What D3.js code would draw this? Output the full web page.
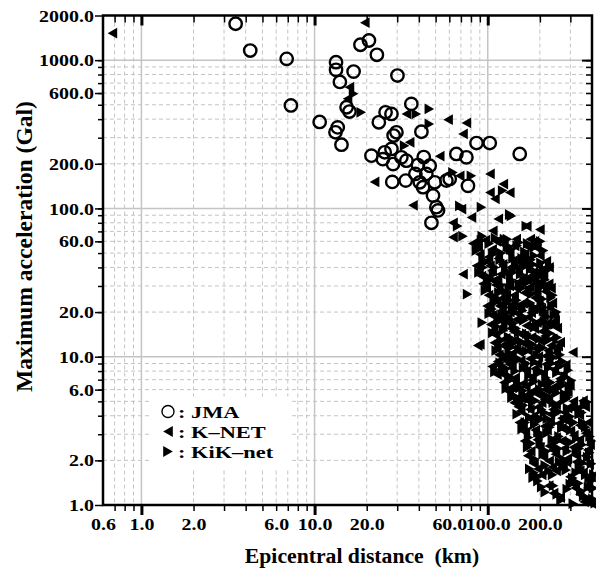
<!DOCTYPE html>
<html>
<head>
<meta charset="utf-8">
<script src="https://cdn.jsdelivr.net/npm/d3@7"></script>
<style>
body { margin: 0; background: #fff; }
text { font-family: "Liberation Serif", "Times New Roman", serif; font-weight: bold; }
</style>
</head>
<body>
<div id="chart"></div>
<script>
// ---- data: [epicentral distance (km), max acceleration (Gal)] ----
var jma = [[3.5,1760],[4.25,1160],[6.9,1020],[7.3,495],[10.7,383],[13.3,969],[13.3,860],[16.8,837],[14.0,713],
  [18.4,1270],[20.6,1357],[22.9,1086],[30.1,787],[15.3,481],[15.9,450],[13.6,352],[13.2,326],[14.3,269],
  [23.5,381],[25.7,445],[27.8,434],[36.2,507],[28.6,310],[29.7,326],[41.4,329],[21.3,227],[24.8,215],
  [25.4,239],[27.8,252],[28.4,199],[31.7,221],[28.1,151],[33.6,154],[39.5,196],[42.7,222],[33.9,210],
  [46.2,194],[44.2,171],[40.5,150],[49.4,150],[57.7,154],[42.3,139],[48.3,122],[50.5,102],[51.6,97],
  [47.3,80],[65.9,233],[75.3,221],[86.1,276],[102.7,276],[153,233],[76.9,142],[60.3,158],[38.2,171]];

var knet = [[0.68,1520],[19.5,1790],[15.9,657],[15.5,548],[33.9,434],[59,397],[75.3,377],[72,318],[35.4,279],
  [52.8,225],[22.2,151],[37,105],[68.9,166],[103,171],[123,146],[134,128],[103,128],[110,116],[70.5,99],
  [63,80],[115,85],[80.5,87],[63,64],[200,72],[168,76],[107,70.6],[72,36],[90,12.1],[310,10.7],[113,7.6],[87.5,11.9],
  [82,58],[90,49],[97,61],[106,53],[115,46],[124,57],[134,50],[146,62],[158,47],[170,55],[186,60],[200,48],
  [88,55],[101,47],[112,60],[129,52],[143,56],[163,49],[192,54],[176,62],
  [86,41],[92,35],[99,44],[106,38],[114,33.5],[122,42],[131,36],[140,44.5],[150,39],[160,34],[171,43],[183,37],[196,41],[210,35],[226,40],
  [89,38],[103,41],[119,36],[136,40],[156,43],[178,35],[202,38],[218,44],
  [94,31],[101,26],[108,32.5],[116,28],[124,24.5],[133,30],[142,26],[152,32],[163,27],[175,29.5],[187,25],[200,31],[215,27.5],[232,29],
  [98,29],[111,30.5],[128,26],[146,29],[169,33],[192,27],[225,31],[121,24.8],
  [99,22],[106,19],[113,23.5],[121,20.5],[130,18.2],[139,22.5],[149,19.5],[160,23],[171,18.5],[184,21],[197,23.8],[211,19],[227,21.5],[243,18.8],
  [103,21],[117,22],[134,20],[155,21.5],[178,19.8],[204,21],[236,23],[124,19],
  [104,16.5],[111,14],[119,17.5],[127,13.3],[136,15.5],[146,17.8],[156,14.2],[167,16.2],[179,13.5],[192,17],[206,14.8],[221,16.8],[237,13.2],[252,15.6],
  [108,15],[122,16],[141,14.8],[162,13.8],[186,15.5],[214,13.8],[245,17.5],[131,17],
  [109,12.4],[116,10.3],[124,11.8],[133,9.9],[142,12.9],[152,10.8],[163,12.2],[175,9.7],[188,11.4],[201,12.8],[216,10.1],[232,11.9],[249,10.6],[262,12.5],
  [113,11.3],[128,12.3],[147,11.4],[171,11],[196,10],[223,11],[255,11.8],[138,10.5],
  [106,8.6],[114,9.3],[123,7.6],[133,8.9],[144,7.2],[155,9.4],[167,8],[180,7.3],[194,9],[209,7.7],[225,9.5],[242,8.2],[261,7.1],[282,8.8],
  [118,8.2],[138,8.4],[161,8.6],[187,8.3],[217,8.9],[250,9],[272,7.6],[128,9.4],
  [124,6.7],[133,5.8],[143,6.9],[154,5.4],[166,6.3],[179,6.95],[193,5.6],[208,6.5],[224,5.25],[241,6.2],[260,6.8],[280,5.5],[298,6.4],
  [137,6.2],[160,6.6],[184,5.9],[215,6],[250,6.4],[290,5.8],[172,5.6],
  [142,4.9],[155,4.3],[168,5.1],[182,3.95],[197,4.6],[213,5.15],[230,4.1],[248,4.75],[268,3.85],[289,4.5],[312,5],[338,4.05],[365,4.6],
  [150,4.6],[175,4.4],[205,4.9],[238,4.4],[278,4.2],[325,4.4],[355,5.05],
  [152,3.6],[165,3.1],[180,3.75],[195,2.9],[212,3.4],[229,3.7],[248,2.85],[268,3.3],[290,3.65],[314,2.95],[340,3.45],[368,3.05],
  [160,3.4],[188,3.2],[220,3.2],[258,3.55],[300,3.15],[352,3.3],[380,3.6],
  [163,2.7],[177,2.3],[193,2.75],[210,2.1],[227,2.5],[246,2.2],[267,2.7],[288,2.05],[312,2.45],[338,2.75],[366,2.15],[390,2.55],
  [170,2.15],[200,2.45],[237,2.35],[277,2.4],[325,2.15],[378,2.35],
  [185,1.9],[205,1.6],[226,1.98],[248,1.7],[272,1.85],[298,1.55],[325,1.95],[355,1.65],[385,1.88],
  [195,1.75],[236,1.8],[285,1.95],[340,1.7],[395,1.55],
  [225,1.35],[262,1.12],[300,1.42],[340,1.18],[378,1.3],[400,1.02],[240,1.2],[320,1.3],[360,1.05]];

var kiknet = [[16.8,593],[18.6,445],[38.7,434],[46,469],[46,371],[33.1,265],[63,175],[80.5,166],[92,102],[134,91],
  [72,65],[137,89],[192,56],[167,76],[122,132],[93,65],[130,62],[148,56],[67,76],[69,104],
  [149,5.3],[183,1.53],[76.5,26.4],[93,17],
  [86,52],[94,45],[102,58],[111,63],[120,50],[130,56],[140,46],[152,59],[164,51],[178,45],[194,57],[210,52],
  [92,61],[107,49],[125,62],[136,53],[158,46],[170,58],[186,48],[202,60],
  [89,37],[96,43],[103,34],[110,40],[118,45],[127,38],[136,33],[145,41],[155,36],[166,44],[177,39],[190,34],[203,43],[218,38],
  [94,40],[108,36],[124,43],[140,37],[160,40],[183,42],[208,36],[228,41],
  [97,28],[104,33],[112,25],[120,30.5],[128,27],[137,32],[147,24],[157,29],[168,31.5],[180,26.5],[193,32.5],[207,24.5],[222,30],[238,26],
  [100,31],[116,27],[133,29],[152,31],[174,28],[198,29],[214,33],[232,25],
  [102,19.5],[109,23],[117,18.5],[125,21.5],[134,24],[144,20],[154,22],[165,18.3],[177,23],[190,20.2],[204,22.8],[219,18.6],[235,22],[250,20],
  [106,21],[121,19.2],[139,21],[159,20.5],[183,21.8],[210,20.5],[242,19],[129,23],
  [107,14.5],[115,17.2],[123,15],[132,13.6],[141,16.8],[151,14.6],[162,17.6],[173,13.8],[186,15.8],[199,13.2],[213,17.3],[229,14.4],[245,16.5],
  [112,16],[127,17.8],[146,15.5],[168,14.3],[192,16.9],[220,15.6],[252,13.5],[136,13.3],
  [112,11],[120,12.9],[128,10],[137,11.6],[147,9.8],[157,12.6],[168,10.9],[181,12.1],[194,10.2],[208,11.5],[224,12.9],[240,9.9],[256,11.3],
  [116,12],[133,10.6],[152,11.2],[175,12.4],[200,11.2],[230,10.6],[262,10.3],[142,12.4],
  [110,7.9],[118,9.1],[128,8.3],[138,7.1],[149,9.5],[161,8.4],[173,7.5],[187,9.2],[201,8],[217,7.2],[233,9],[251,7.8],[271,9.3],[292,8.1],
  [122,8.6],[144,8],[167,9],[194,7.7],[225,8.4],[261,8.6],[282,7.3],[133,7.4],
  [128,6.1],[138,5.3],[149,6.6],[160,5.9],[173,5.2],[186,6.8],[200,6],[216,5.5],[232,6.7],[250,5.7],[270,6.4],[289,5.3],[305,6.9],
  [133,6.9],[155,6.2],[180,5.6],[207,6.5],[241,6],[278,5.6],[296,6.3],
  [148,4.1],[161,4.7],[175,3.9],[189,5.05],[205,4.4],[221,3.82],[239,4.9],[258,4.25],[278,5.1],[300,3.95],[324,4.6],[350,4.2],[375,4.95],
  [155,5],[182,4.5],[213,4.2],[248,4.6],[289,4.5],[337,4.1],[362,4.7],
  [158,3.25],[172,2.85],[187,3.5],[203,3.8],[220,3.05],[238,3.55],[258,2.9],[279,3.75],[302,3.2],[326,2.82],[354,3.6],[382,3.1],
  [165,3.6],[195,3.1],[229,3.35],[268,3.3],[314,3.6],[368,3.35],[390,2.9],
  [170,2.45],[185,2.05],[201,2.6],[218,2.3],[236,2.78],[256,2.4],[277,2.02],[300,2.65],[325,2.3],[352,2.55],[378,2.1],[398,2.7],
  [178,2.6],[209,2.2],[246,2.65],[288,2.3],[338,2.4],[388,2.25],
  [175,1.75],[195,1.55],[215,1.85],[237,1.6],[260,1.95],[284,1.72],[310,1.52],[338,1.8],[368,1.6],[398,1.9],[410,1.6],
  [185,1.65],[226,1.7],[272,1.8],[324,1.65],[355,1.92],[385,1.52],
  [195,1.45],[215,1.22],[240,1.35],[265,1.08],[288,1.28],[312,1.02],[335,1.4],[358,1.15],[382,1.32],[405,1.1],[418,1.03],[395,1.45],
  [205,1.32],[252,1.18],[300,1.38],[345,1.25],[372,1.12],[408,1.3]];

// ticks and grid
var xTickLabels = [0.6, 1, 2, 6, 10, 20, 60, 100, 200];
var yTickLabels = [1, 2, 6, 10, 20, 60, 100, 200, 600, 1000, 2000];
var xMajor = [1, 10, 100];
var yMajor = [10, 100, 1000];
var xMinor = [0.7,0.8,0.9, 2,3,4,5,6,7,8,9, 20,30,40,50,60,70,80,90, 200,300];
var yMinor = [2,3,4,5,6,7,8,9, 20,30,40,50,60,70,80,90, 200,300,400,500,600,700,800,900];
var legendItems = ["JMA", "K\u2013NET", "KiK\u2013net"];

// Margin convention
var margin = {top: 15.5, right: 4, bottom: 64, left: 103};
var width = 596 - margin.left - margin.right;
var height = 569 - margin.top - margin.bottom;

var svg = d3.select("#chart")
            .append("svg")
            .attr("width", 596)
            .attr("height", 569)
            .style("display", "block")
            .append("g")
            .attr("transform", "translate(" + margin.left + "," + margin.top + ")");

var x = d3.scaleLog().domain([0.6, 400]).range([0, width]);
var y = d3.scaleLog().domain([1, 2000]).range([height, 0]);

// Grid
var grid = svg.append("g").attr("stroke", "#c4c4c4").attr("stroke-width", 1);
grid.selectAll(".vminor").data(xMinor).enter().append("line")
    .attr("x1", d => x(d)).attr("x2", d => x(d)).attr("y1", 0).attr("y2", height)
    .attr("stroke-dasharray", "4 3");
grid.selectAll(".hminor").data(yMinor).enter().append("line")
    .attr("y1", d => y(d)).attr("y2", d => y(d)).attr("x1", 0).attr("x2", width)
    .attr("stroke-dasharray", "4 3");
grid.selectAll(".vmajor").data(xMajor).enter().append("line")
    .attr("x1", d => x(d)).attr("x2", d => x(d)).attr("y1", 0).attr("y2", height)
    .attr("stroke-width", 1.5);
grid.selectAll(".hmajor").data(yMajor).enter().append("line")
    .attr("y1", d => y(d)).attr("y2", d => y(d)).attr("x1", 0).attr("x2", width)
    .attr("stroke-width", 1.5);

// Legend box (covers grid)
svg.append("rect")
   .attr("x", 47).attr("y", 381).attr("width", 140).attr("height", 73)
   .attr("fill", "white");

// Axes
var fmt = d3.format(".1f");
var xAll = xMinor.concat(xMajor);
var yAll = yMinor.concat(yMajor);

function styleAxis(g) {
    g.select(".domain").remove();
    g.selectAll("line").attr("stroke", "black").attr("stroke-width", 1.5);
    g.selectAll("text").attr("fill", "black").attr("font-size", 17.5)
     .attr("transform", "scale(1.14,1)")
     .attr("font-family", "Liberation Serif, Times New Roman, serif").attr("font-weight", "bold");
}

// left (outward)
svg.append("g").call(d3.axisLeft(y).tickValues(yAll).tickSize(5).tickFormat("")).call(styleAxis);
svg.append("g").call(d3.axisLeft(y).tickValues(yTickLabels).tickSize(8).tickPadding(0).tickFormat(fmt)).call(styleAxis);
// bottom (outward)
svg.append("g").attr("transform", "translate(0," + height + ")")
   .call(d3.axisBottom(x).tickValues(xAll).tickSize(6).tickFormat("")).call(styleAxis);
svg.append("g").attr("transform", "translate(0," + height + ")")
   .call(d3.axisBottom(x).tickValues(xMajor).tickSize(10).tickFormat("")).call(styleAxis)
   .selectAll("line").attr("stroke-width", 3);
svg.append("g").attr("transform", "translate(0," + height + ")")
   .call(d3.axisBottom(x).tickValues(xTickLabels).tickSize(0).tickPadding(13).tickFormat(fmt)).call(styleAxis);
// top (inward)
svg.append("g").call(d3.axisTop(x).tickValues(xAll).tickSize(-7).tickFormat("")).call(styleAxis);
svg.append("g").call(d3.axisTop(x).tickValues(xMajor).tickSize(-10).tickFormat("")).call(styleAxis)
   .selectAll("line").attr("stroke-width", 3);
// right (inward)
svg.append("g").attr("transform", "translate(" + width + ",0)")
   .call(d3.axisRight(y).tickValues(yAll).tickSize(-6).tickFormat("")).call(styleAxis);
svg.append("g").attr("transform", "translate(" + width + ",0)")
   .call(d3.axisRight(y).tickValues(yMajor).tickSize(-10).tickFormat("")).call(styleAxis)
   .selectAll("line").attr("stroke-width", 2);

// frame
svg.append("rect").attr("x", 0).attr("y", 0).attr("width", width).attr("height", height)
   .attr("fill", "none").attr("stroke", "black").attr("stroke-width", 2.5);

// Markers
var leftTri = "M-4.8,0L4.8,-5.4L4.8,5.4Z";
var rightTri = "M4.8,0L-4.8,-5.4L-4.8,5.4Z";

svg.append("g").selectAll("path")
   .data(knet).enter().append("path")
   .attr("d", leftTri)
   .attr("transform", d => "translate(" + x(d[0]) + "," + y(d[1]) + ")")
   .attr("fill", "black");

svg.append("g").selectAll("path")
   .data(kiknet).enter().append("path")
   .attr("d", rightTri)
   .attr("transform", d => "translate(" + x(d[0]) + "," + y(d[1]) + ")")
   .attr("fill", "black");

svg.append("g").selectAll("circle")
   .data(jma).enter().append("circle")
   .attr("cx", d => x(d[0])).attr("cy", d => y(d[1]))
   .attr("r", 6.2)
   .attr("fill", "none").attr("stroke", "black").attr("stroke-width", 2.4);

// Legend
var lg = svg.append("g").attr("transform", "translate(65,396)");
lg.append("circle").attr("cx", 0).attr("cy", 0).attr("r", 6).attr("fill", "none")
  .attr("stroke", "black").attr("stroke-width", 1.4);
lg.append("path").attr("d", leftTri).attr("transform", "translate(0,20)");
lg.append("path").attr("d", rightTri).attr("transform", "translate(0,40)");
lg.selectAll("text").data(legendItems).enter().append("text")
  .attr("transform", (d, i) => "translate(10," + (i * 20 + 6.5) + ") scale(1.28,1)")
  .attr("font-size", 17.5)
  .text(d => ": " + d);

// Axis titles
svg.append("text")
   .attr("x", 259).attr("y", 547)
   .attr("text-anchor", "middle").attr("font-size", 21.7)
   .text("Epicentral distance  (km)")
   .style("white-space", "pre");

svg.append("text")
   .attr("transform", "translate(-71," + 231 + ") rotate(-90)")
   .attr("text-anchor", "middle").attr("font-size", 23.6)
   .text("Maximum acceleration (Gal)");
</script>
</body>
</html>
